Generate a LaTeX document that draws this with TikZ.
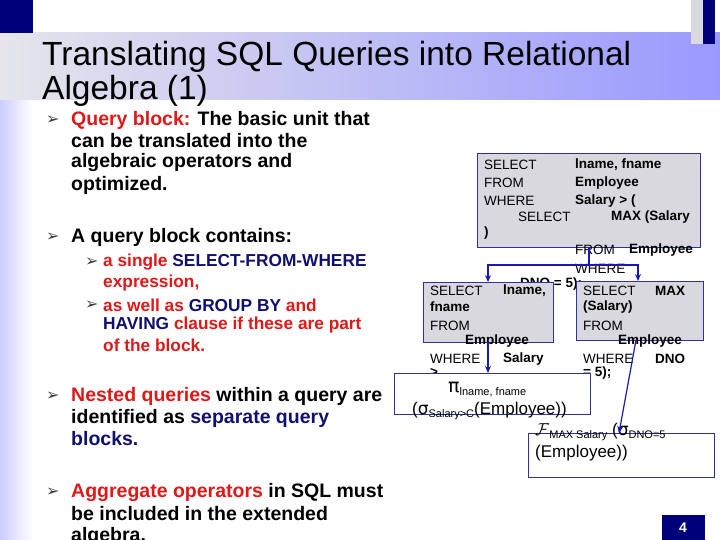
\documentclass[tikz,border=0pt]{standalone}
\usepackage{fontspec}
\setmainfont{Liberation Sans}
\newfontfamily\dvs{DejaVu Sans}
\usetikzlibrary{arrows.meta}
\definecolor{navy}{HTML}{00007A}
\definecolor{qred}{HTML}{E01818}
\definecolor{qblue}{HTML}{101070}
\definecolor{boxfill}{HTML}{D8D8DE}
\definecolor{boxline}{HTML}{3030A0}
\definecolor{arr}{HTML}{1A1AB0}
\tikzset{
  t/.style={anchor=west,inner sep=0pt,font=\fontsize{19.5}{21}\selectfont\bfseries},
  st/.style={anchor=west,inner sep=0pt,font=\fontsize{17.3}{19}\selectfont\bfseries,text=qred},
  bul/.style={anchor=west,inner sep=0pt,font=\dvs\fontsize{16}{16}\selectfont,text=black!75},
  sq/.style={anchor=west,inner sep=0pt,font=\fontsize{13.5}{14}\selectfont},
  sqb/.style={anchor=west,inner sep=0pt,font=\fontsize{13.5}{14}\selectfont\bfseries},
  gbox/.style={draw=boxline,fill=boxfill,line width=0.8pt},
  wbox/.style={draw=boxline,fill=white,line width=0.8pt},
  con/.style={draw=arr,line width=1.6pt,-{Stealth[length=7pt,width=6pt]}},
  alg/.style={anchor=west,inner sep=0pt,font=\fontsize{17}{18}\selectfont},
}
\newcommand{\lowsub}[1]{\raisebox{-3pt}{\fontsize{11}{11}\selectfont #1}}
\begin{document}
\begin{tikzpicture}[x=1pt,y=-1pt]
\useasboundingbox (0,0) rectangle (720,540);
\fill[white] (0,0) rectangle (720,540);
\shade[left color=blue!20!white, right color=white] (0,33) rectangle (33,540);
\fill[left color=blue!22!black!10!white, right color=blue!40!white] (0,33) rectangle (720,100);
\fill[navy] (0,0) rectangle (33,33);
\fill[blue!20!black!15!white] (691,0) rectangle (703,44);
\fill[navy] (703,0) rectangle (715,44);
% title
\node[anchor=base west,inner sep=0pt,font=\fontsize{33.5}{34}\selectfont] (title1) at (42,66) {Translating SQL Queries into Relational};
\node[anchor=base west,inner sep=0pt,font=\fontsize{33.5}{34}\selectfont] (title2) at (42,100) {Algebra (1)};
% bullets left
\node[bul] (b1) at (46,120) {➢};
\node[t] (l1) at (71,120) {\textcolor{qred}{Query block:} The basic unit that};
\node[t] (l2) at (71,141) {can be translated into the};
\node[t] (l3) at (71,163) {algebraic operators and};
\node[t] (l4) at (71,185) {optimized.};
\node[bul] (b2) at (46,237) {➢};
\node[t] (l5) at (71,237) {A query block contains:};
\node[bul] (b3) at (85,262) {➢};
\node[st] (s1) at (103,262) {a single \textcolor{qblue}{SELECT-FROM-WHERE}};
\node[st] (s2) at (103,283) {expression,};
\node[bul] (b4) at (85,305) {➢};
\node[st] (s3) at (103,305) {as well as \textcolor{qblue}{GROUP BY} and};
\node[st] (s4) at (103,325) {\textcolor{qblue}{HAVING} clause if these are part};
\node[st] (s5) at (103,345) {of the block.};
\node[bul] (b5) at (46,396) {➢};
\node[t] (l6) at (71,396) {\textcolor{qred}{Nested queries} within a query are};
\node[t] (l7) at (71,418) {identified as \textcolor{qblue}{separate query}};
\node[t] (l8) at (71,439) {\textcolor{qblue}{blocks.}};
\node[bul] (b6) at (46,492) {➢};
\node[t] (l9) at (71,492) {\textcolor{qred}{Aggregate operators} in SQL must};
\node[t] (l10) at (71,514) {be included in the extended};
\node[t] (l11) at (71,536) {algebra.};
% top box
\draw[gbox] (477,153) rectangle (700,247);
\coordinate (topb) at (589,247);
\node[sq] (q1) at (484,165) {SELECT}; \node[sqb] (q1b) at (575,165) {lname, fname};
\node[sq] (q2) at (484,183) {FROM}; \node[sqb] (q2b) at (575,183) {Employee};
\node[sq] (q3) at (484,201) {WHERE}; \node[sqb] (q3b) at (575,201) {Salary > (};
\node[sq] (q4) at (518,217) {SELECT}; \node[sqb] (q4b) at (611,217) {MAX (Salary};
\node[sqb] (q5) at (484,233) {)};
\node[sq] (q6) at (575,250) {FROM}; \node[sqb] (q6b) at (629,250) {Employee};
\node[sq] (q7) at (575,269) {WHERE};
\node[sqb] (q8) at (520,284) {DNO = 5);};
\coordinate (j) at (589,265);
\coordinate (jl) at (488,265);
\coordinate (jr) at (638,265);
% left box
\draw[gbox] (423,282) rectangle (553,342);
\node[sq] (a1) at (430,291) {SELECT}; \node[sqb] (a1b) at (503,291) {lname,};
\node[sqb] (a2) at (430,307) {fname};
\node[sq] (a3) at (430,326) {FROM};
\node[sqb] (a4) at (465,341) {Employee};
\node[sq] (a5) at (430,359) {WHERE}; \node[sqb] (a5b) at (503,359) {Salary};
\node[sqb] (a6) at (430,372) {>};
% right box
\draw[gbox] (576,281) rectangle (703,340);
\node[sq] (r1) at (583,291) {SELECT}; \node[sqb] (r1b) at (655,291) {MAX};
\node[sqb] (r2) at (583,307) {(Salary)};
\node[sq] (r3) at (583,326) {FROM};
\node[sqb] (r4) at (618,341) {Employee};
\node[sq] (r5) at (583,359) {WHERE}; \node[sqb] (r5b) at (655,359) {DNO};
\node[sqb] (r6) at (583,373) {= 5);};
\draw[con] (topb) -- (j) -- (jl) -- (488,282);
\draw[con] (j) -- (jr) -- (638,281);
% pi box
\draw[wbox] (394,373) rectangle (590,414);
\node[alg] (pi) at (448,390) {{\dvs\fontsize{19}{19}\selectfont π}\lowsub{lname, fname}};
\node[alg] (pi2) at (412,411) {({\dvs σ}\lowsub{Salary>C}(Employee))};
\draw[con] (488,342) -- (488,373);
% F box
\draw[wbox] (528,433) rectangle (714,477);
\node[alg] (f1) at (535,432) {$\mathcal{F}$\lowsub{MAX Salary} ({\dvs σ}\lowsub{DNO=5}};
\node[alg] (f2) at (535,453) {(Employee))};
\draw[con,line width=1.2pt] (636,340) -- (619,433);
% page number
\fill[navy] (662,515) rectangle (705,540);
\node[font=\fontsize{14}{14}\selectfont\bfseries,text=white] (pg) at (683,528) {4};
\end{tikzpicture}
\end{document}
